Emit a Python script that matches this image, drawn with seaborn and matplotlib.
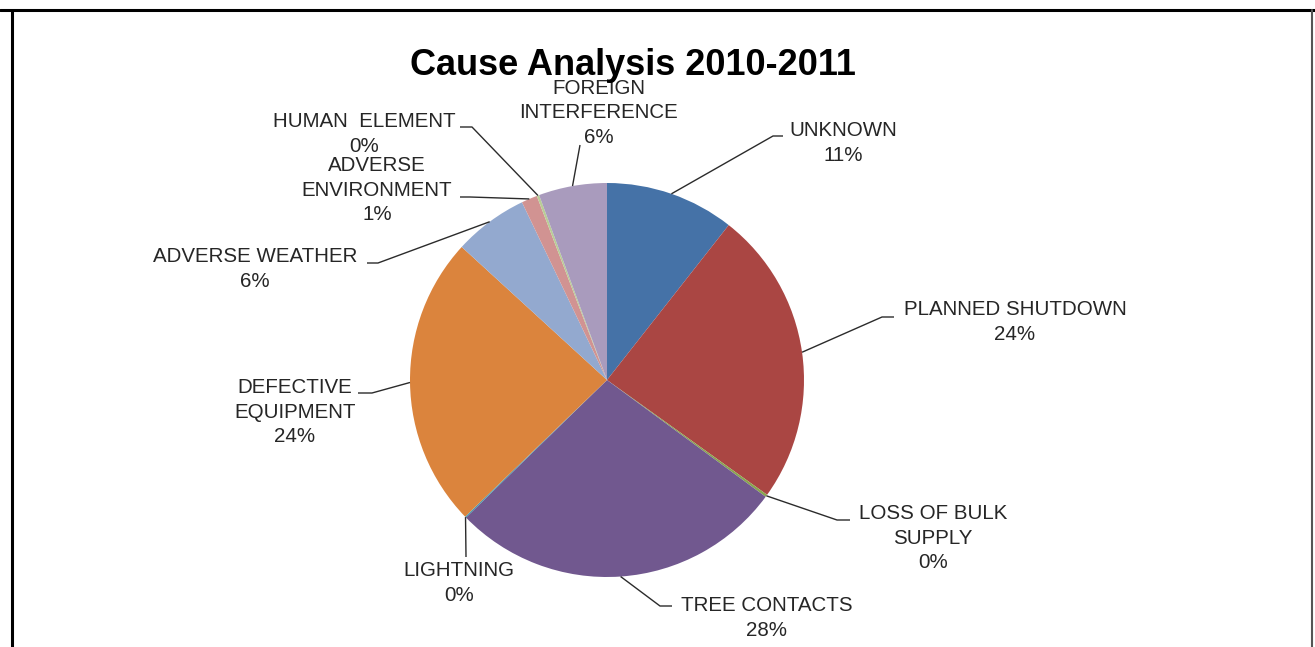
import numpy as np
import matplotlib.pyplot as plt
import seaborn as sns

sns.set_style("white")
plt.rcParams['font.family'] = ['Liberation Sans', 'DejaVu Sans']

# slices clockwise from 12 o'clock
causes = ["UNKNOWN", "PLANNED SHUTDOWN", "LOSS OF BULK\nSUPPLY", "TREE CONTACTS",
          "LIGHTNING", "DEFECTIVE\nEQUIPMENT", "ADVERSE WEATHER", "ADVERSE\nENVIRONMENT",
          "HUMAN  ELEMENT", "FOREIGN\nINTERFERENCE"]
share = [10.6, 24.3, 0.2, 27.6, 0.1, 24.0, 6.1, 1.3, 0.2, 5.6]
colors = ["#4572A7", "#AA4643", "#89A54E", "#71588F", "#4198AF",
          "#DB843D", "#93A9CF", "#D19392", "#B9CD96", "#A99BBD"]

W, H = 1315, 647
cx, cy, R = 607, 380, 197   # pie centre / radius in pixels (y from top)

# label block centre and leader-line elbow points (pixels, y from top)
label_pos = [(843, 143), (1015, 322), (933, 538), (767, 618), (459, 583),
             (295, 412), (255, 269), (377, 190), (364, 134), (599, 113)]
elbows = [[(773, 136), (783, 136)],
          [(882, 317), (894, 317)],
          [(837, 520), (850, 520)],
          [(660, 606), (672, 606)],
          [(466, 557)],
          [(372, 393), (358, 393)],
          [(378, 263), (367, 263)],
          [(470, 197), (460, 197)],
          [(472, 127), (460, 127)],
          [(580, 145)]]

fig = plt.figure(figsize=(W / 100, H / 100), dpi=100)
ax = fig.add_axes([0, 0, 1, 1])

wedges, _ = ax.pie(share, colors=colors, startangle=90, counterclock=False,
                   radius=R, center=(cx, H - cy),
                   wedgeprops=dict(linewidth=0))
ax.set_xlim(0, W)
ax.set_ylim(0, H)
ax.set_aspect('auto')
ax.axis('off')

total = sum(share)
for w, name, val, (lx, ly), pts in zip(wedges, causes, share, label_pos, elbows):
    mid = np.deg2rad((w.theta1 + w.theta2) / 2)
    xs = [cx + R * np.cos(mid)] + [p[0] for p in pts]
    ys = [H - cy + R * np.sin(mid)] + [H - p[1] for p in pts]
    ax.plot(xs, ys, color="#2b2b2b", lw=1.0, solid_capstyle='butt')
    ax.text(lx, H - ly, f"{name}\n{val / total * 100:.0f}%", ha='center', va='center',
            multialignment='center', fontsize=14.8, color="#262626", linespacing=1.36)

ax.text(633, H - 75, "Cause Analysis 2010-2011", ha='center', va='baseline',
        fontsize=26, fontweight='bold', color='black')

# chart frame
ax.plot([0, W], [H - 9.5, H - 9.5], color='black', lw=2.2, clip_on=False)
ax.plot([12, 12], [H - 9.5, -5], color='black', lw=2.2, clip_on=False)
ax.plot([1312, 1312], [H - 9.5, -5], color='#555555', lw=1.5, clip_on=False)

plt.savefig("out.png", dpi=100)
